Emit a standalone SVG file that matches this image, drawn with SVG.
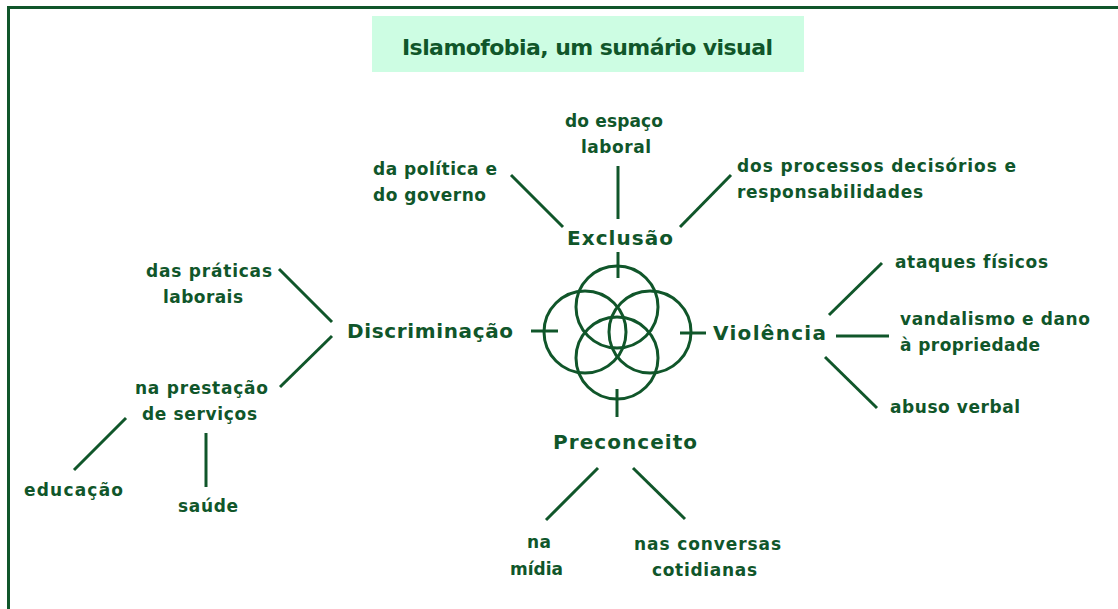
<svg xmlns="http://www.w3.org/2000/svg" width="1118" height="609" viewBox="0 0 1118 609">
<style>
text{font-family:"DejaVu Sans","Liberation Sans",sans-serif;font-weight:bold;fill:#10562a}
.s{font-size:17px}
.m{font-size:20px}
.t{font-size:22px}
.ln{stroke:#10562a;stroke-width:3;fill:none}
</style>
<rect x="0" y="0" width="1118" height="609" fill="#ffffff"/>
<rect id="frame" x="8.5" y="7.5" width="1300" height="800" fill="none" stroke="#10562a" stroke-width="3"/>
<g id="title">
<rect x="372" y="16" width="432" height="56" fill="#cdfde3"/>
<text class="t" x="402" y="55" textLength="371" lengthAdjust="spacing">Islamofobia, um sumário visual</text>
</g>
<g id="symbol" class="ln">
<circle cx="617" cy="307" r="41"/>
<circle cx="617" cy="358" r="41"/>
<circle cx="585" cy="332" r="41"/>
<circle cx="650" cy="332" r="41"/>
<line x1="618" y1="252" x2="618" y2="278"/>
<line x1="617" y1="389" x2="617" y2="417"/>
<line x1="531" y1="331" x2="558" y2="331"/>
<line x1="680" y1="333" x2="706" y2="333"/>
</g>
<g id="connectors" class="ln">
<line x1="511" y1="175" x2="563" y2="227"/>
<line x1="618" y1="166" x2="618" y2="219"/>
<line x1="731" y1="175" x2="680" y2="227"/>
<line x1="279" y1="269" x2="332" y2="322"/>
<line x1="332" y1="336" x2="280" y2="387"/>
<line x1="126" y1="418" x2="74" y2="470"/>
<line x1="206" y1="433" x2="206" y2="487"/>
<line x1="882" y1="263" x2="829" y2="315"/>
<line x1="836" y1="336" x2="889" y2="336"/>
<line x1="825" y1="357" x2="877" y2="408"/>
<line x1="598" y1="468" x2="546" y2="520"/>
<line x1="633" y1="468" x2="685" y2="519"/>
</g>
<g id="exclusao"><text class="m" x="567" y="245" textLength="106" lengthAdjust="spacing">Exclusão</text></g>
<g id="discriminacao"><text class="m" x="347" y="338" textLength="166" lengthAdjust="spacing">Discriminação</text></g>
<g id="violencia"><text class="m" x="713" y="340" textLength="113" lengthAdjust="spacing">Violência</text></g>
<g id="preconceito"><text class="m" x="553" y="449" textLength="144" lengthAdjust="spacing">Preconceito</text></g>
<g id="espaco-laboral">
<text class="s" x="565" y="127" textLength="98" lengthAdjust="spacing">do espaço</text>
<text class="s" x="581" y="153" textLength="70" lengthAdjust="spacing">laboral</text>
</g>
<g id="politica-governo">
<text class="s" x="373" y="175" textLength="124" lengthAdjust="spacing">da política e</text>
<text class="s" x="373" y="201" textLength="113" lengthAdjust="spacing">do governo</text>
</g>
<g id="processos-decisorios">
<text class="s" x="737" y="172" textLength="279" lengthAdjust="spacing">dos processos decisórios e</text>
<text class="s" x="737" y="198" textLength="186" lengthAdjust="spacing">responsabilidades</text>
</g>
<g id="praticas-laborais">
<text class="s" x="146" y="277" textLength="126" lengthAdjust="spacing">das práticas</text>
<text class="s" x="163" y="303" textLength="80" lengthAdjust="spacing">laborais</text>
</g>
<g id="prestacao-servicos">
<text class="s" x="135" y="394" textLength="133" lengthAdjust="spacing">na prestação</text>
<text class="s" x="142" y="420" textLength="115" lengthAdjust="spacing">de serviços</text>
</g>
<g id="educacao"><text class="s" x="24" y="496" textLength="99" lengthAdjust="spacing">educação</text></g>
<g id="saude"><text class="s" x="178" y="512" textLength="60" lengthAdjust="spacing">saúde</text></g>
<g id="ataques-fisicos"><text class="s" x="895" y="268" textLength="153" lengthAdjust="spacing">ataques físicos</text></g>
<g id="vandalismo">
<text class="s" x="900" y="325" textLength="190" lengthAdjust="spacing">vandalismo e dano</text>
<text class="s" x="900" y="351" textLength="140" lengthAdjust="spacing">à propriedade</text>
</g>
<g id="abuso-verbal"><text class="s" x="890" y="413" textLength="130" lengthAdjust="spacing">abuso verbal</text></g>
<g id="na-midia">
<text class="s" x="527" y="548" textLength="24" lengthAdjust="spacing">na</text>
<text class="s" x="510" y="575" textLength="53" lengthAdjust="spacing">mídia</text>
</g>
<g id="conversas-cotidianas">
<text class="s" x="634" y="550" textLength="147" lengthAdjust="spacing">nas conversas</text>
<text class="s" x="652" y="576" textLength="105" lengthAdjust="spacing">cotidianas</text>
</g>
</svg>
